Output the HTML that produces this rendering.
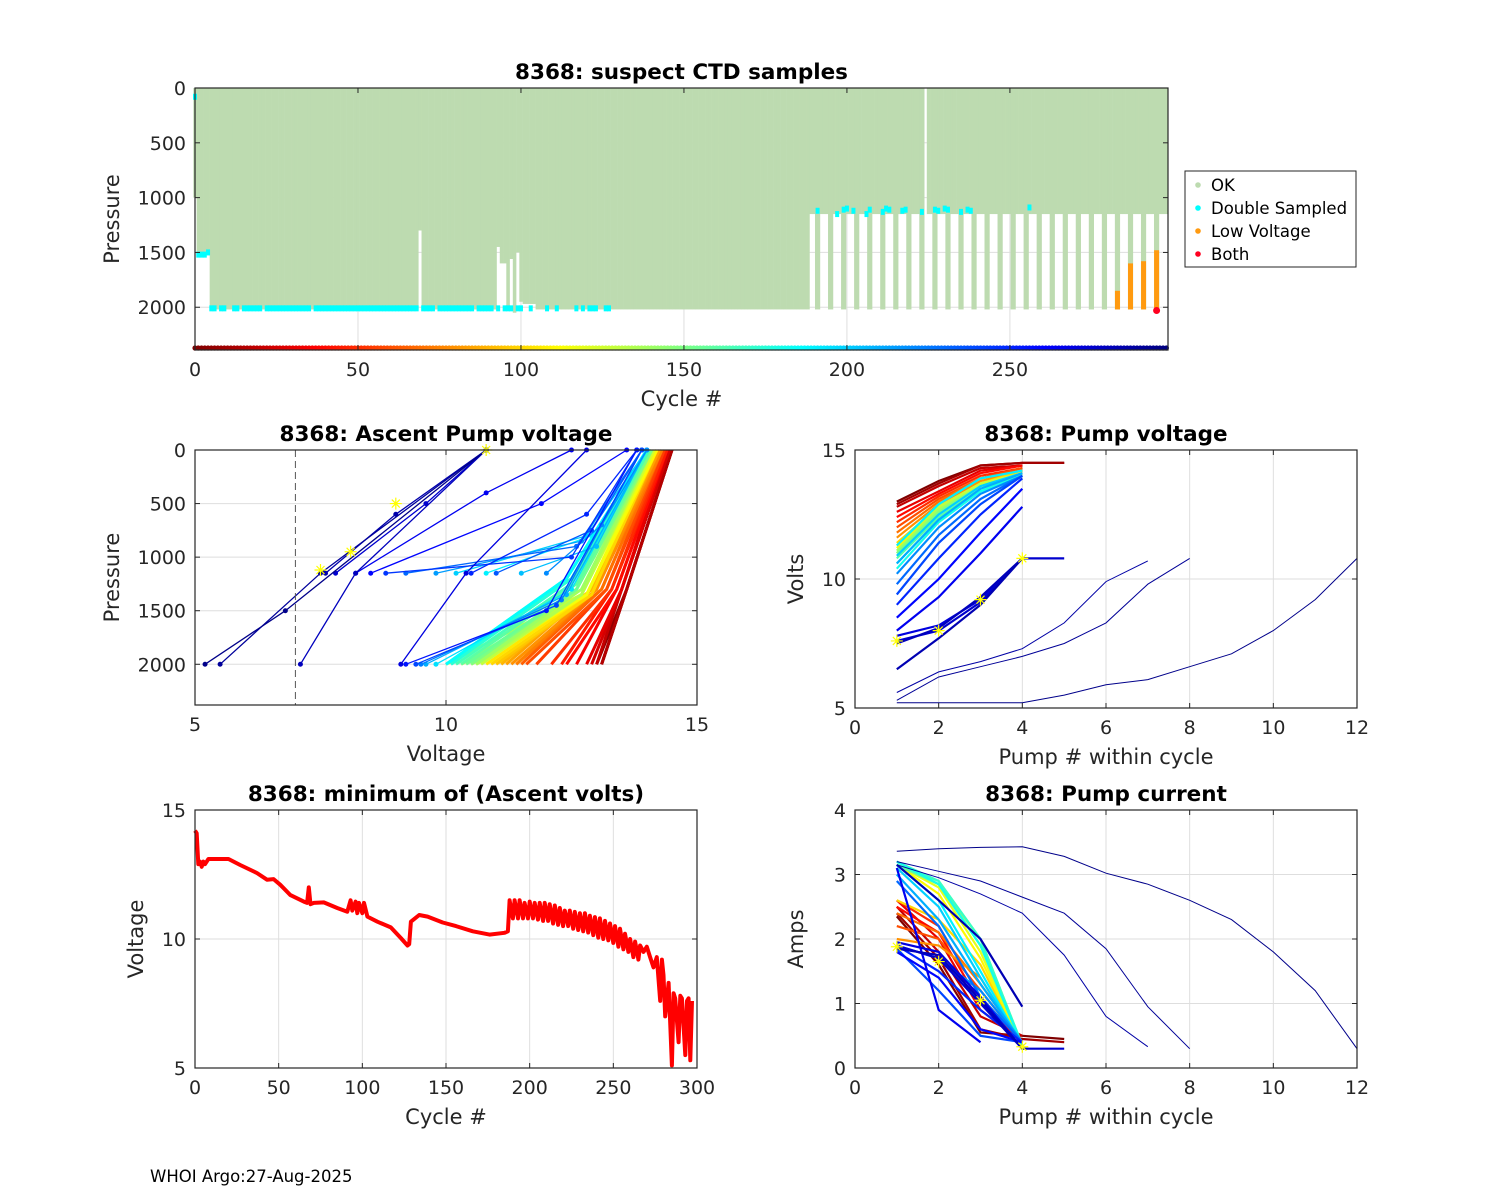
<!DOCTYPE html>
<html><head><meta charset="utf-8"><title>8368 CTD diagnostics</title>
<style>
html,body{margin:0;padding:0;background:#fff;}
svg{display:block;font-family:"DejaVu Sans","Liberation Sans",sans-serif;}
.tick{font-size:19px;fill:#262626;}
.lab{font-size:21px;fill:#262626;}
.ttl{font-size:21.5px;font-weight:bold;fill:#000;}
</style></head>
<body>
<svg id="fig" width="1500" height="1200" viewBox="0 0 1500 1200" xmlns="http://www.w3.org/2000/svg">
<rect x="0" y="0" width="1500" height="1200" fill="#fff"/>
<g id="layer"></g>
<text x="150" y="1182" font-size="16.5" fill="#000">WHOI Argo:27-Aug-2025</text>
</svg>
<script>
// ---------- Panel 1 data: suspect CTD samples ----------
const depthRuns = [[0,0,1000],[1,4,1520],[5,68,2020],[69,69,1300],[70,92,2020],[93,93,1450],[94,95,1600],[96,96,2030],[97,97,1560],[98,98,2050],[99,99,1500],[100,100,1950],[101,104,1970],[105,188,2020],[189,298,1150]];
const deepCycles = [191,195,199,203,207,211,215,219,223,227,231,235,239,243,247,251,255,259,263,267,271,275,279,283,287,291,295];
const gapCycles = [224];
const lowVCycles = [283,287,291,295];
const lowVTops = [1850,1600,1580,1480];
const bothCycles = [295];
const bothP = [2030];
const dblEarlyCycles = [0,1,2,3,4];
const dblEarlyP = [80,1520,1520,1520,1500];
const dblBotCycles = [5,6,8,9,12,13,15,16,17,18,19,20,22,23,24,25,26,27,28,29,30,31,32,33,34,35,37,38,39,40,41,42,43,44,45,46,47,48,49,50,51,52,53,54,55,56,57,58,59,60,61,62,63,64,65,66,67,68,70,71,72,73,75,76,77,78,79,80,81,82,83,84,85,87,88,89,90,91,93,95,96,97,99,100,103,108,111,117,119,121,122,123,126,127];
const dblBotP = 2010;
const dblTopCycles = [191,197,199,200,202,206,207,211,212,213,217,218,223,227,228,230,231,235,237,238,256];
const dblTopP = [1120,1150,1110,1100,1120,1150,1110,1130,1100,1110,1120,1110,1130,1110,1120,1100,1110,1130,1110,1120,1090];

// ---------- Panel 2 data: ascent pump voltage profiles ----------
const profCycles = [0,5,10,15,20,25,30,35,40,45,50,55,60,65,70,75,80,85,90,95,100,105,110,115,120,125,130,135,140,145,150,155,160,165,170,175,180,185,190,195,200,205,210,215,220,225,230,235,240,245,250,255,260,265,270,275,280,285,290,295];
const profBotP = [2000,2000,2000,2000,2000,2000,2000,2000,2000,2000,2000,2000,2000,2000,2000,2000,2000,2000,2000,2000,2000,2000,2000,2000,2000,2000,2000,2000,2000,2000,2000,2000,2000,2000,2000,2000,2000,2000,1150,2000,1150,1150,2000,1150,1150,2000,1150,1150,2000,1150,1150,2000,1150,1150,2000,1150,2000,1150,2000,2000];
const profBotV = [13.1,13.0,13.1,13.1,13.0,12.9,12.8,12.6,12.4,12.3,12.1,11.8,11.6,11.5,11.4,11.4,11.3,11.2,11.1,11.0,10.9,10.8,10.6,10.5,10.3,10.0,10.7,10.6,10.6,10.5,10.5,10.4,10.3,10.2,10.1,10.1,10.0,10.0,10.8,9.8,10.2,11.5,9.6,9.8,12.0,9.5,9.2,11.0,9.4,8.8,10.5,9.2,8.5,8.2,9.1,7.8,7.1,7.6,5.5,5.2];
const profKneeP = [1300,1300,1300,1300,1300,1300,1300,1300,1300,1300,1300,1300,1300,1300,1300,1300,1300,1300,1300,1350,1350,1350,1350,1350,1350,1350,1350,1350,1300,1300,1300,1300,1250,1250,1200,1200,1200,1200,800,1300,800,900,1350,850,700,1400,900,750,1450,1000,600,1500,500,400,1150,500,1150,600,1150,1500];
const profKneeV = [13.6,13.6,13.6,13.6,13.5,13.5,13.5,13.4,13.4,13.3,13.3,13.2,13.2,13.1,13.1,13.0,13.0,12.9,12.9,12.9,12.9,12.8,12.8,12.8,12.7,12.7,12.7,12.7,12.7,12.6,12.6,12.6,12.6,12.5,12.5,12.5,12.4,12.4,12.9,12.5,12.8,13.0,12.4,12.7,13.1,12.3,12.6,12.9,12.2,12.5,12.8,12.0,11.9,10.8,10.4,9.6,8.2,9.0,7.5,6.8];
const profTopV = [14.5,14.5,14.5,14.5,14.45,14.45,14.4,14.4,14.4,14.4,14.35,14.35,14.3,14.3,14.3,14.3,14.25,14.25,14.2,14.2,14.2,14.2,14.2,14.15,14.15,14.15,14.1,14.1,14.1,14.1,14.1,14.05,14.05,14.05,14.0,14.0,14.0,14.0,14.0,14.0,14.0,14.0,14.0,13.9,14.0,13.9,13.9,13.9,13.9,13.8,13.8,13.8,13.6,12.5,12.8,10.8,10.8,10.8,10.8,10.8];
const starV = [10.8,9.0,8.1,7.5];
const starP = [0,500,950,1120];
const cutoffV = [7];

// ---------- Panel 3 & 5 data: per-pump volts and amps ----------
const pumpCycles = [0,10,20,30,40,50,60,70,80,100,110,120,130,140,150,160,170,180,190,200,210,220,230,240,250,260,265,270,275,280,283,287,291,295];
const pumpVolts = [
 [13.0,13.8,14.4,14.5,14.5],[12.9,13.7,14.4,14.5,14.5],[12.8,13.6,14.3,14.4],[12.6,13.4,14.2,14.4],[12.4,13.3,14.1,14.4],
 [12.2,13.2,14.0,14.3],[12.0,13.1,13.9,14.3],[11.8,13.0,13.9,14.2],[11.6,12.9,13.8,14.2],[11.4,12.8,13.7,14.2],
 [11.2,12.7,13.7,14.1],[11.0,12.6,13.6,14.1],[11.3,12.8,13.7,14.1],[11.1,12.7,13.6,14.1],[11.0,12.6,13.6,14.0],
 [10.8,12.4,13.5,14.0],[10.6,12.3,13.4,14.0],[10.4,12.2,13.4,14.0],[11.3,12.9,13.9,14.2],[10.9,12.5,13.6,14.1],
 [10.6,12.3,13.5,14.1],[10.2,12.0,13.3,14.0],[9.8,11.7,13.1,14.0],[9.4,11.4,12.9,14.0],[9.0,10.8,12.5,13.9],
 [8.5,10.0,11.8,13.5],[8.0,9.3,11.0,12.8],[7.8,8.2,9.2,10.8],[7.6,8.0,9.1,10.8,10.8],[7.5,8.1,9.3,10.8],
 [6.5,7.7,9.0,10.8],[5.6,6.4,6.8,7.3,8.3,9.9,10.7],[5.3,6.2,6.6,7.0,7.5,8.3,9.8,10.8],[5.2,5.2,5.2,5.2,5.5,5.9,6.1,6.6,7.1,8.0,9.2,10.8]];
const pumpAmps = [
 [2.35,1.6,0.55,0.5,0.45],[2.4,1.7,0.6,0.45,0.4],[2.5,1.8,0.8,0.5],[2.6,2.0,0.9,0.4],[2.5,2.1,1.0,0.4],
 [2.6,2.2,1.1,0.4],[2.2,2.0,1.2,0.4],[2.4,2.1,1.3,0.4],[2.0,1.9,1.4,0.35],[2.6,2.3,1.6,0.35],
 [3.15,2.7,1.7,0.35],[3.15,2.8,1.8,0.35],[3.15,2.85,1.9,0.35],[3.15,2.85,2.0,0.35],[3.15,2.9,2.0,0.35],
 [3.15,2.85,1.9,0.35],[3.2,2.9,2.0,0.35],[3.2,2.85,1.9,0.35],[3.15,2.6,1.5,0.35],[3.1,2.5,1.4,0.35],
 [3.0,2.3,1.3,0.4],[1.9,1.7,1.2,0.4],[2.9,2.2,1.1,0.4],[1.85,1.2,0.5,0.4],[1.9,1.5,0.9,0.4],
 [1.8,1.4,0.6,0.4],[3.1,0.9,0.4],[1.95,1.8,1.1,0.3],[1.9,1.7,1.0,0.3,0.3],[1.85,1.75,1.05,0.3],
 [3.15,2.6,2.0,0.95],[3.15,2.95,2.7,2.4,1.75,0.8,0.33],[3.2,3.05,2.9,2.65,2.4,1.85,0.95,0.3],[3.36,3.4,3.42,3.43,3.28,3.02,2.85,2.6,2.3,1.8,1.2,0.3]];
const pvStarX = [1,2,3,4];
const pvStarY = [7.6,8.0,9.2,10.8];
const paStarX = [1,2,3,4];
const paStarY = [1.88,1.65,1.05,0.33];

// ---------- Panel 4 data: minimum ascent volts ----------
const minCycles = [0,1,2,3,4,5,6,8,10,20,27,37,43,47,51,57,65,67,68,69,71,77,85,91,93,94,96,97,98,100,101,103,109,117,123,127,128,129,134,139,148,156,166,176,185,187,188,190,191,193,194,196,197,199,200,202,203,205,206,208,209,211,212,214,215,217,218,220,221,223,224,226,227,229,230,232,233,235,236,238,239,241,242,244,245,247,248,250,251,253,254,256,257,259,260,262,263,265,266,268,270,272,274,276,278,279,280,281,283,285,286,287,289,290,291,293,294,295,296,297];
const minVolts = [14.2,14.1,12.9,13.0,12.8,13.0,12.9,13.1,13.1,13.1,12.87,12.56,12.3,12.32,12.1,11.7,11.45,11.4,12.0,11.35,11.4,11.42,11.2,11.06,11.5,11.1,11.45,11.0,11.4,11.0,11.4,10.87,10.67,10.45,10.04,9.75,9.8,10.67,10.93,10.87,10.64,10.5,10.3,10.17,10.24,10.3,11.5,10.8,11.5,10.8,11.5,10.8,11.4,10.8,11.45,10.8,11.4,10.75,11.4,10.7,11.4,10.7,11.35,10.6,11.3,10.55,11.2,10.5,11.1,10.5,11.1,10.4,11.05,10.35,11.0,10.3,11.0,10.25,10.9,10.15,10.85,10.05,10.8,10.0,10.7,9.95,10.6,9.85,10.5,9.7,10.4,9.6,10.2,9.5,10.0,9.3,9.9,9.2,9.75,9.5,9.7,9.3,8.9,9.3,7.6,9.2,8.6,7.0,8.3,5.1,7.9,7.7,6.0,7.8,7.7,5.5,7.6,7.7,5.3,7.6];

// ---------- Tick labels ----------
const p1XTicks = [0,50,100,150,200,250];
const p1YTicks = [0,500,1000,1500,2000];
const p2XTicks = [5,10,15];
const p2YTicks = [0,500,1000,1500,2000];
const p3XTicks = [0,2,4,6,8,10,12];
const p3YTicks = [5,10,15];
const p4XTicks = [0,50,100,150,200,250,300];
const p4YTicks = [5,10,15];
const p5XTicks = [0,2,4,6,8,10,12];
const p5YTicks = [0,1,2,3,4];
const legendLabels = ["OK","Double Sampled","Low Voltage","Both"];
const legendColors = ["#bddbb0","#00ffff","#ff9a10","#ff0020"];

const NS = "http://www.w3.org/2000/svg";
const layer = document.getElementById('layer');
function mk(tag, attrs, parent){
  const e = document.createElementNS(NS, tag);
  for (const k in attrs) e.setAttribute(k, attrs[k]);
  (parent||layer).appendChild(e);
  return e;
}
function jet(t){
  t = Math.max(0, Math.min(1, t));
  const cl = v => Math.round(255*Math.max(0, Math.min(1, v)));
  return `rgb(${cl(1.5-Math.abs(4*t-3))},${cl(1.5-Math.abs(4*t-2))},${cl(1.5-Math.abs(4*t-1))})`;
}
function cycColor(c){ return jet(1 - c/298); }

function panel(px0, px1, py0, py1, xmin, xmax, ymin, ymax, yDown){
  return {
    px0, px1, py0, py1,
    x: v => px0 + (v - xmin) / (xmax - xmin) * (px1 - px0),
    y: v => yDown ? py0 + (v - ymin) / (ymax - ymin) * (py1 - py0)
                  : py1 - (v - ymin) / (ymax - ymin) * (py1 - py0)
  };
}
function gridAndFrame(P, xt, yt, name, grid){
  const g = mk('g', {});
  
  
  if (grid) {
    xt.forEach(v => { const X = P.x(v); mk('line', {x1:X, x2:X, y1:P.py0, y2:P.py1, stroke:'#dedede', 'stroke-width':1}, g); });
    yt.forEach(v => { const Y = P.y(v); mk('line', {x1:P.px0, x2:P.px1, y1:Y, y2:Y, stroke:'#dedede', 'stroke-width':1}, g); });
  }
  return g;
}
function axesOver(P, xt, yt, name, xlab, ylab, title){
  const g = mk('g', {});
  
  
  const h = P.py1 - P.py0, w = P.px1 - P.px0, tl = 5;
  xt.forEach(v => { const X = P.x(v);
    mk('line', {x1:X, x2:X, y1:P.py1, y2:P.py1 - tl, stroke:'#262626'}, g);
    mk('line', {x1:X, x2:X, y1:P.py0, y2:P.py0 + tl, stroke:'#262626'}, g);
    const t = mk('text', {x:X, y:P.py1 + 26, 'text-anchor':'middle', class:'tick'}, g); t.textContent = v;
    
    
  });
  yt.forEach(v => { const Y = P.y(v);
    mk('line', {x1:P.px0, x2:P.px0 + tl, y1:Y, y2:Y, stroke:'#262626'}, g);
    mk('line', {x1:P.px1, x2:P.px1 - tl, y1:Y, y2:Y, stroke:'#262626'}, g);
    const t = mk('text', {x:P.px0 - 9, y:Y + 7, 'text-anchor':'end', class:'tick'}, g); t.textContent = v;
    
    
  });
  mk('rect', {x:P.px0, y:P.py0, width:w, height:h, fill:'none', stroke:'#262626', 'stroke-width':1.2}, g);
  const xl = mk('text', {x:(P.px0+P.px1)/2, y:P.py1 + 56, 'text-anchor':'middle', class:'lab'}, g); xl.textContent = xlab;
  
  
  const yx = P.px0 - (yt.some(v => String(v).length >= 4) ? 76 : 52);
  const yl = mk('text', {x:yx, y:(P.py0+P.py1)/2, 'text-anchor':'middle', class:'lab', transform:`rotate(-90 ${yx} ${(P.py0+P.py1)/2})`}, g); yl.textContent = ylab;
  
  
  const tt = mk('text', {x:(P.px0+P.px1)/2, y:P.py0 - 9, 'text-anchor':'middle', class:'ttl'}, g); tt.textContent = title;
  
  
}
function star(g, X, Y){
  const s = 6;
  mk('path', {d:`M${X-s},${Y}H${X+s}M${X},${Y-s}V${Y+s}M${X-4},${Y-4}L${X+4},${Y+4}M${X-4},${Y+4}L${X+4},${Y-4}`, stroke:'#ffff00', 'stroke-width':1.2, fill:'none'}, g);
}

// ===== Panel 1 =====
const P1 = panel(195, 1168, 88, 350, 0, 298.5, 0, 2390, true);
gridAndFrame(P1, p1XTicks, p1YTicks, 'ctd-samples', true);
const depth = [];
depthRuns.forEach(r => { for (let c = r[0]; c <= r[1]; c++) depth[c] = r[2]; });
const okG = mk('g', {fill:'#bddbb0'});


const bw = P1.x(1) - P1.x(0);
for (let c = 0; c < depth.length; c++) {
  if (gapCycles.includes(c)) continue;
  mk('rect', {x:P1.x(c) - bw/2, y:P1.y(0), width:bw + 0.3, height:P1.y(depth[c]) - P1.y(0)}, okG);
}
deepCycles.forEach(c => {
  mk('rect', {x:P1.x(c) - 2.6, y:P1.y(0), width:5.2, height:P1.y(2020) - P1.y(0)}, okG);
});
const dG = mk('g', {fill:'#00ffff'});


dblEarlyCycles.forEach((c, i) => { mk('rect', {x:P1.x(c) - 2, y:P1.y(dblEarlyP[i]) - 3, width:4, height:6}, dG); });
dblBotCycles.forEach(c => { mk('rect', {x:P1.x(c) - 2, y:P1.y(dblBotP) - 3, width:4, height:6}, dG); });
dblTopCycles.forEach((c, i) => { mk('rect', {x:P1.x(c) - 2, y:P1.y(dblTopP[i]) - 3, width:4, height:6}, dG); });
const lG = mk('g', {fill:'#ff9a10'});


lowVCycles.forEach((c, i) => { mk('rect', {x:P1.x(c) - 2.5, y:P1.y(lowVTops[i]), width:5, height:P1.y(2020) - P1.y(lowVTops[i])}, lG); });
const bG = mk('g', {fill:'#ff0020'});


bothCycles.forEach((c, i) => { mk('circle', {cx:P1.x(c), cy:P1.y(bothP[i]), r:3.5}, bG); });
const cG = mk('g', {});


for (let c = 0; c < depth.length; c++) { mk('circle', {cx:P1.x(c), cy:348, r:2.6, fill:cycColor(c)}, cG); }
axesOver(P1, p1XTicks, p1YTicks, 'ctd-samples', 'Cycle #', 'Pressure', '8368: suspect CTD samples');
// legend
const lg = mk('g', {});


mk('rect', {x:1185, y:171, width:171, height:96, fill:'#fff', stroke:'#262626', 'stroke-width':1}, lg);
legendLabels.forEach((l, i) => {
  const y = 185 + i * 23;
  const e = mk('g', {}, lg);
  
  
  mk('circle', {cx:1198, cy:y, r:2.8, fill:legendColors[i]}, e);
  const t = mk('text', {x:1211, y:y + 6, 'font-size':16.5, fill:'#000'}, e); t.textContent = l;
});

// ===== Panel 2 =====
const P2 = panel(195, 697, 450, 705, 5, 15, 0, 2380, true);
gridAndFrame(P2, p2XTicks, p2YTicks, 'ascent-voltage', true);
const pg = mk('g', {fill:'none'});


profCycles.forEach((c, i) => {
  const col = cycColor(c);
  const pts = [[profBotV[i], profBotP[i]], [profKneeV[i], profKneeP[i]], [profTopV[i], 0]];
  const d = pts.map((p, k) => (k ? 'L' : 'M') + P2.x(p[0]).toFixed(1) + ',' + P2.y(p[1]).toFixed(1)).join('');
  const ln = mk('path', {d, stroke:col, 'stroke-width': c < 190 ? 3 : 1.3}, pg);
  
  
  if (c >= 190) pts.forEach(p => mk('circle', {cx:P2.x(p[0]), cy:P2.y(p[1]), r:2.5, fill:col}, pg));
});
const cl = mk('line', {x1:P2.x(cutoffV[0]), x2:P2.x(cutoffV[0]), y1:P2.py0, y2:P2.py1, stroke:'#555', 'stroke-dasharray':'7,4', 'stroke-width':1});


const sg = mk('g', {});


starV.forEach((v, i) => star(sg, P2.x(v), P2.y(starP[i])));
axesOver(P2, p2XTicks, p2YTicks, 'ascent-voltage', 'Voltage', 'Pressure', '8368: Ascent Pump voltage');

// ===== Panel 3 =====
const P3 = panel(855, 1357, 450, 708, 0, 12, 5, 15, false);
gridAndFrame(P3, p3XTicks, p3YTicks, 'pump-voltage', true);
const vg = mk('g', {fill:'none'});


pumpCycles.forEach((c, i) => {
  const d = pumpVolts[i].map((v, k) => (k ? 'L' : 'M') + P3.x(k + 1).toFixed(1) + ',' + P3.y(v).toFixed(1)).join('');
  const ln = mk('path', {d, stroke:cycColor(c), 'stroke-width': pumpVolts[i].length > 5 ? 1 : 2.2}, vg);
  
  
});
pvStarX.forEach((v, i) => star(vg, P3.x(v), P3.y(pvStarY[i])));
axesOver(P3, p3XTicks, p3YTicks, 'pump-voltage', 'Pump # within cycle', 'Volts', '8368: Pump voltage');

// ===== Panel 4 =====
const P4 = panel(195, 697, 810, 1068, 0, 300, 5, 15, false);
gridAndFrame(P4, p4XTicks, p4YTicks, 'min-volts', true);
const md = minCycles.map((c, i) => (i ? 'L' : 'M') + P4.x(c).toFixed(1) + ',' + P4.y(minVolts[i]).toFixed(1)).join('');
const ml = mk('path', {d:md, stroke:'#ff0000', 'stroke-width':4, fill:'none', 'stroke-linejoin':'round'});


axesOver(P4, p4XTicks, p4YTicks, 'min-volts', 'Cycle #', 'Voltage', '8368: minimum of (Ascent volts)');

// ===== Panel 5 =====
const P5 = panel(855, 1357, 810, 1068, 0, 12, 0, 4, false);
gridAndFrame(P5, p5XTicks, p5YTicks, 'pump-current', true);
const ag = mk('g', {fill:'none'});


pumpCycles.forEach((c, i) => {
  const d = pumpAmps[i].map((v, k) => (k ? 'L' : 'M') + P5.x(k + 1).toFixed(1) + ',' + P5.y(v).toFixed(1)).join('');
  const ln = mk('path', {d, stroke:cycColor(c), 'stroke-width': pumpAmps[i].length > 5 ? 1 : 2.2}, ag);
  
  
});
paStarX.forEach((v, i) => star(ag, P5.x(v), P5.y(paStarY[i])));
axesOver(P5, p5XTicks, p5YTicks, 'pump-current', 'Pump # within cycle', 'Amps', '8368: Pump current');
</script>
</body></html>
